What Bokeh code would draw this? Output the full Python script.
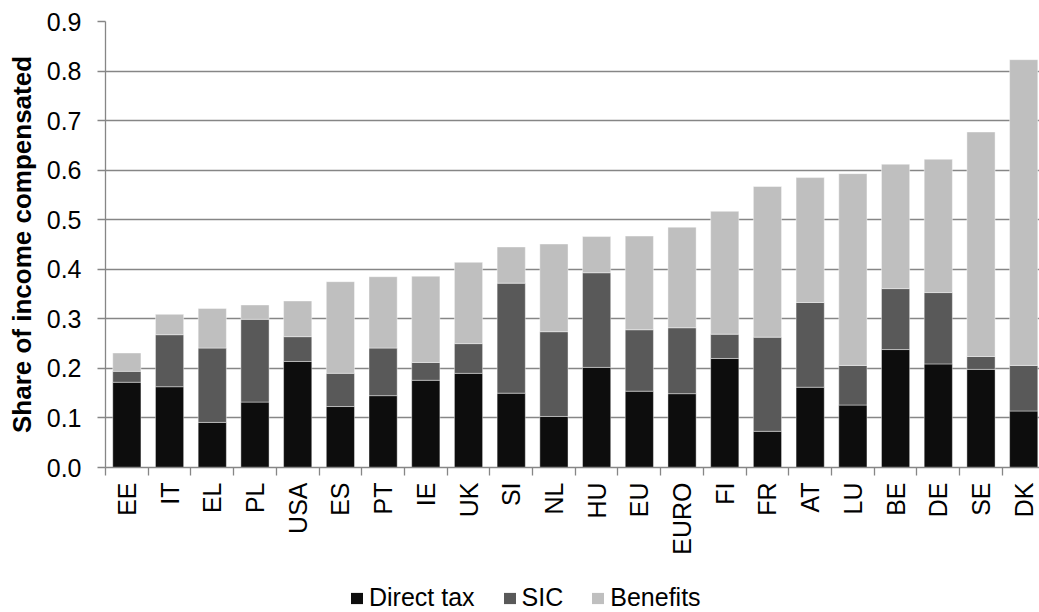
import math
from bokeh.plotting import figure
from bokeh.layouts import column
from bokeh.models import (Range1d, FixedTicker, Legend, LegendItem,
                          ColumnDataSource, PrintfTickFormatter)
from bokeh.embed import file_html
from bokeh.resources import INLINE

categories = ["EE", "IT", "EL", "PL", "USA", "ES", "PT", "IE", "UK", "SI", "NL",
              "HU", "EU", "EURO", "FI", "FR", "AT", "LU", "BE", "DE", "SE", "DK"]
direct_tax = [0.172, 0.163, 0.091, 0.132, 0.214, 0.123, 0.145, 0.176, 0.190, 0.150, 0.103,
              0.202, 0.154, 0.149, 0.220, 0.073, 0.162, 0.126, 0.238, 0.209, 0.198, 0.114]
sic = [0.022, 0.105, 0.150, 0.167, 0.050, 0.067, 0.096, 0.036, 0.060, 0.222, 0.171,
       0.191, 0.124, 0.133, 0.049, 0.190, 0.171, 0.080, 0.123, 0.144, 0.026, 0.092]
benefits = [0.037, 0.041, 0.080, 0.029, 0.072, 0.185, 0.144, 0.174, 0.164, 0.073, 0.177,
            0.073, 0.189, 0.203, 0.248, 0.304, 0.252, 0.387, 0.251, 0.269, 0.453, 0.617]
series_names = ["Direct tax", "SIC", "Benefits"]
series_colors = ["#0d0d0d", "#595959", "#bfbfbf"]
y_ticks = [0.0, 0.1, 0.2, 0.3, 0.4, 0.5, 0.6, 0.7, 0.8, 0.9]

FONT = "Liberation Sans"
GRAY = "#868686"
W = 1039

positions = list(range(len(categories)))
src = ColumnDataSource(dict(x=positions, direct=direct_tax, sic=sic, benefits=benefits))
stack_cols = ["direct", "sic", "benefits"]

p = figure(width=W, height=567,
           x_range=Range1d(-0.5, len(categories) - 0.63),
           y_range=Range1d(y_ticks[0], y_ticks[-1]),
           output_backend="svg", toolbar_location=None,
           min_border_left=105, min_border_top=21, min_border_right=0,
           min_border_bottom=100)

rs = p.vbar_stack(stack_cols, x="x", width=0.66, source=src,
                  fill_color=series_colors, line_color="#ffffff", line_width=0.6,
                  line_alpha=0.7)

# X axis: labels at category centres, ticks at boundaries
p.xaxis.ticker = FixedTicker(ticks=positions,
                             minor_ticks=[i - 0.5 for i in range(len(categories) + 1)])
p.xaxis.major_label_overrides = {i: c for i, c in enumerate(categories)}
p.xaxis.major_label_orientation = math.pi / 2
p.xaxis.major_tick_out = 0
p.xaxis.major_tick_in = 0
p.xaxis.minor_tick_out = 8
p.xaxis.minor_tick_in = 0
p.xaxis.minor_tick_line_color = GRAY
p.xaxis.minor_tick_line_width = 1.3
p.xaxis.major_label_standoff = 7
p.xaxis.major_label_text_font = FONT
p.xaxis.major_label_text_font_size = "25px"
p.xaxis.major_label_text_color = "#000000"
p.xaxis.axis_line_color = GRAY
p.xaxis.axis_line_width = 1.3

# Y axis
p.yaxis.ticker = FixedTicker(ticks=y_ticks)
p.yaxis.formatter = PrintfTickFormatter(format="%.1f")
p.yaxis.major_tick_out = 8
p.yaxis.major_tick_in = 0
p.yaxis.minor_tick_line_color = None
p.yaxis.major_tick_line_color = GRAY
p.yaxis.major_tick_line_width = 1.3
p.yaxis.major_label_standoff = 16
p.yaxis.major_label_text_font = FONT
p.yaxis.major_label_text_font_size = "25px"
p.yaxis.major_label_text_color = "#000000"
p.yaxis.axis_line_color = GRAY
p.yaxis.axis_line_width = 1.3
p.yaxis.axis_label = "Share of income compensated"
p.yaxis.axis_label_text_font = FONT
p.yaxis.axis_label_text_font_size = "26px"
p.yaxis.axis_label_text_font_style = "bold"
p.yaxis.axis_label_text_color = "#000000"
p.yaxis.axis_label_standoff = 7

p.xgrid.visible = False
p.ygrid.ticker = FixedTicker(ticks=y_ticks)
p.ygrid.grid_line_color = GRAY
p.ygrid.grid_line_width = 1.3
p.outline_line_color = None

# Legend strip below the chart (its frame is aligned with the chart frame).
# The key renderers reuse the chart data but sit outside this strip's y range,
# so only their legend swatches are drawn.
lg = figure(width=W, height=45, x_range=Range1d(-0.5, len(categories) - 0.63),
            y_range=Range1d(10, 11),
            output_backend="svg", toolbar_location=None,
            x_axis_location=None, y_axis_location=None,
            min_border_left=0, min_border_right=0, min_border_top=0, min_border_bottom=0)
lg.xgrid.visible = False
lg.ygrid.visible = False
lg.outline_line_color = None
key_rs = lg.vbar_stack(stack_cols, x="x", width=0.66, source=src,
                       fill_color=series_colors, line_color=None)
legend = Legend(items=[LegendItem(label=n, renderers=[r]) for n, r in zip(series_names, key_rs)],
                orientation="horizontal", location=(244, 0),
                label_text_font=FONT, label_text_font_size="25px",
                label_text_color="#000000",
                glyph_width=15, glyph_height=14, label_standoff=5, spacing=27,
                padding=0, margin=0, border_line_color=None, background_fill_alpha=0)
lg.add_layout(legend)

open("out.html", "w").write(file_html(column(p, lg, spacing=0), INLINE))
